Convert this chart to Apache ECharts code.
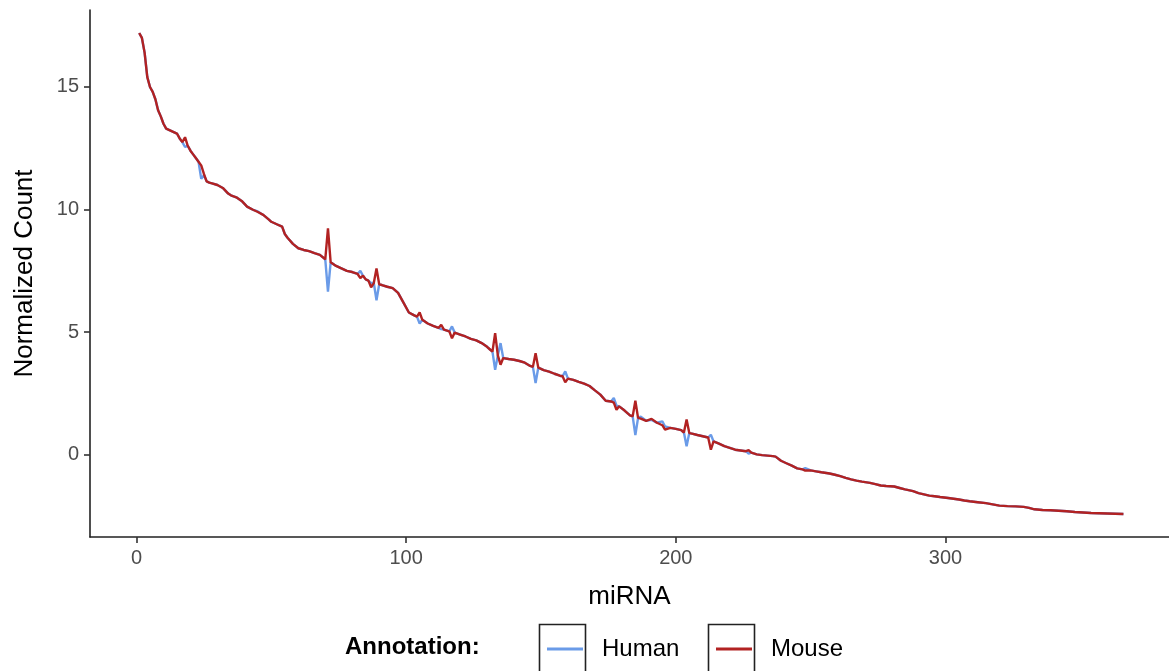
<!DOCTYPE html>
<html>
<head>
<meta charset="utf-8">
<script src="https://cdn.jsdelivr.net/npm/echarts@6/dist/echarts.min.js"></script>
<style>
html,body{margin:0;padding:0;background:#fff;}
#chart{width:1169px;height:671px;}
</style>
</head>
<body>
<div id="chart"></div>
<script>
// miRNA index (x) positions
const mirna = [1,2,3,4,5,6,7,8,9,10,11,12,13,14,15,16,17,18,19,20,21,22,23,24,25,26,27,28,30,32,34,35,37,39,41,43,45,47,49,50,52,54,55,56,58,60,62,64,66,68,70,71,72,74,76,78,80,82,83,84,85,86,87,88,89,90,91,93,95,97,99,101,103,104,105,106,108,110,112,113,114,116,117,118,120,122,124,126,128,130,131,132,133,134,135,136,138,140,142,144,146,147,148,149,151,153,155,157,158,159,160,162,164,166,168,170,172,174,176,177,178,179,181,183,184,185,186,187,189,191,193,195,196,198,200,202,203,204,205,206,208,210,212,213,214,216,218,220,222,224,226,227,228,230,232,234,236,237,239,241,243,245,247,248,250,252,254,257,259,261,263,265,267,269,272,274,276,278,281,283,285,288,290,292,294,296,298,301,303,305,307,309,312,315,318,320,323,326,329,331,333,336,339,342,345,348,351,354,357,360,363,366];

const human = [17.2,17.0,16.4,15.4,15.0,14.8,14.5,14.05,13.8,13.5,13.3,13.25,13.2,13.15,13.1,12.9,12.75,12.55,12.6,12.4,12.25,12.1,11.95,11.25,11.4,11.15,11.1,11.07,11.0,10.88,10.65,10.58,10.5,10.35,10.12,10.0,9.92,9.78,9.6,9.5,9.4,9.3,9.0,8.85,8.6,8.42,8.35,8.3,8.22,8.15,7.97,6.65,7.85,7.7,7.6,7.5,7.45,7.37,7.5,7.3,7.15,7.1,7.0,7.0,6.3,6.95,6.92,6.85,6.79,6.6,6.2,5.8,5.68,5.63,5.35,5.5,5.35,5.25,5.17,5.12,5.1,5.03,5.23,4.98,4.9,4.82,4.72,4.66,4.55,4.4,4.3,4.2,3.46,4.05,4.55,3.94,3.9,3.87,3.82,3.75,3.62,3.58,2.92,3.55,3.45,3.39,3.3,3.22,3.2,3.4,3.1,3.05,2.97,2.9,2.8,2.62,2.45,2.2,2.17,2.31,2.0,1.97,1.8,1.6,1.56,0.8,1.5,1.55,1.38,1.42,1.3,1.36,1.15,1.09,1.05,1.0,0.9,0.34,0.88,0.86,0.8,0.75,0.7,0.81,0.54,0.45,0.35,0.28,0.2,0.17,0.14,0.04,0.08,0.01,-0.02,-0.04,-0.06,-0.08,-0.25,-0.35,-0.45,-0.56,-0.6,-0.55,-0.64,-0.68,-0.72,-0.77,-0.82,-0.88,-0.95,-1.01,-1.06,-1.1,-1.15,-1.2,-1.26,-1.28,-1.3,-1.36,-1.42,-1.49,-1.57,-1.62,-1.67,-1.7,-1.73,-1.77,-1.8,-1.83,-1.87,-1.9,-1.94,-1.98,-2.04,-2.08,-2.1,-2.11,-2.13,-2.17,-2.23,-2.26,-2.27,-2.29,-2.31,-2.34,-2.36,-2.38,-2.39,-2.4,-2.41,-2.42];

const mouse = [17.2,17.0,16.4,15.4,15.0,14.8,14.5,14.05,13.8,13.5,13.3,13.25,13.2,13.15,13.1,12.9,12.75,12.95,12.6,12.4,12.25,12.1,11.95,11.8,11.45,11.15,11.1,11.07,11.0,10.88,10.65,10.58,10.5,10.35,10.12,10.0,9.9,9.78,9.6,9.5,9.4,9.3,9.0,8.85,8.6,8.42,8.35,8.3,8.22,8.15,7.97,9.23,7.85,7.7,7.6,7.5,7.45,7.37,7.2,7.3,7.15,7.1,6.83,7.0,7.6,6.95,6.92,6.85,6.79,6.6,6.2,5.8,5.68,5.63,5.8,5.5,5.35,5.25,5.17,5.3,5.1,5.03,4.75,4.98,4.9,4.82,4.72,4.66,4.55,4.4,4.3,4.2,4.96,4.05,3.67,3.94,3.9,3.87,3.82,3.75,3.62,3.58,4.14,3.55,3.45,3.39,3.3,3.22,3.2,2.95,3.1,3.05,2.97,2.9,2.8,2.62,2.45,2.2,2.17,2.12,1.83,1.97,1.8,1.6,1.56,2.2,1.5,1.47,1.38,1.46,1.3,1.2,1.02,1.09,1.05,1.0,0.9,1.43,0.88,0.86,0.8,0.75,0.7,0.2,0.54,0.45,0.35,0.28,0.2,0.17,0.14,0.18,0.08,0.01,-0.02,-0.04,-0.06,-0.08,-0.25,-0.35,-0.45,-0.56,-0.6,-0.65,-0.64,-0.68,-0.72,-0.77,-0.82,-0.88,-0.95,-1.01,-1.06,-1.1,-1.15,-1.2,-1.26,-1.28,-1.3,-1.36,-1.42,-1.49,-1.57,-1.62,-1.67,-1.7,-1.73,-1.77,-1.8,-1.83,-1.87,-1.9,-1.94,-1.98,-2.04,-2.08,-2.1,-2.11,-2.13,-2.17,-2.23,-2.26,-2.27,-2.29,-2.31,-2.34,-2.36,-2.38,-2.39,-2.4,-2.41,-2.42];

const xTicks = [0, 100, 200, 300];
const yTicks = [0, 5, 10, 15];
const seriesNames = ['Human', 'Mouse'];
const legendTitle = 'Annotation:';

const FONT = '"Liberation Sans", Arial, sans-serif';
const colors = {Human: '#6A9BE8', Mouse: '#B22222'};

const pairs = (ys) => mirna.map((x, i) => [x, ys[i]]);

const chart = echarts.init(document.getElementById('chart'), null, {renderer: 'canvas'});

const axisCommon = {
  axisLine: {show: true, onZero: false, lineStyle: {color: '#222', width: 1.6}},
  axisTick: {show: true, length: 6, inside: false, lineStyle: {color: '#333', width: 1.6}},
  splitLine: {show: false},
  nameLocation: 'middle',
  nameTextStyle: {fontFamily: FONT, fontSize: 26, color: '#000'}
};

chart.setOption({
  animation: false,
  backgroundColor: '#fff',
  grid: {left: 90, right: 0, top: 10, bottom: 134, containLabel: false},
  xAxis: Object.assign({}, axisCommon, {
    type: 'value', min: -17.25, max: 382.9,
    name: 'miRNA', nameGap: 47,
    axisLabel: {
      fontFamily: FONT, fontSize: 20, color: '#4D4D4D', margin: 11,
      showMinLabel: true, showMaxLabel: true,
      customValues: xTicks, formatter: v => String(v)
    },
    axisTick: Object.assign({}, axisCommon.axisTick, {customValues: xTicks})
  }),
  yAxis: Object.assign({}, axisCommon, {
    type: 'value', min: -3.36, max: 18.14,
    name: 'Normalized Count', nameGap: 52,
    axisLabel: {
      fontFamily: FONT, fontSize: 20, color: '#4D4D4D', margin: 11,
      customValues: yTicks, formatter: v => String(v)
    },
    axisTick: Object.assign({}, axisCommon.axisTick, {customValues: yTicks})
  }),
  legend: [
    {
      data: [seriesNames[0]], left: 542, top: 632, icon: 'rect',
      itemWidth: 36, itemHeight: 3,
      textStyle: {fontFamily: FONT, fontSize: 24, color: '#000', padding: [0, 0, 0, 14]},
      selectedMode: false
    },
    {
      data: [seriesNames[1]], left: 711, top: 632, icon: 'rect',
      itemWidth: 36, itemHeight: 3,
      textStyle: {fontFamily: FONT, fontSize: 24, color: '#000', padding: [0, 0, 0, 14]},
      selectedMode: false
    }
  ],
  graphic: [
    {type: 'rect', left: 537, top: 622, shape: {width: 46, height: 48},
     style: {fill: 'none', stroke: '#222', lineWidth: 1.6}, z: -1},
    {type: 'rect', left: 706, top: 622, shape: {width: 46, height: 48},
     style: {fill: 'none', stroke: '#222', lineWidth: 1.6}, z: -1},
    {type: 'text', left: 345, top: 635,
     style: {text: legendTitle, fontFamily: FONT, fontSize: 24, fontWeight: 'bold', fill: '#000'}}
  ],
  series: seriesNames.map((name, k) => ({
    name: name,
    type: 'line',
    data: pairs(k === 0 ? human : mouse),
    showSymbol: false,
    symbol: 'none',
    smooth: false,
    z: 2 + k,
    itemStyle: {color: colors[name]},
    lineStyle: {color: colors[name], width: 2.4}
  }))
});
</script>
</body>
</html>
